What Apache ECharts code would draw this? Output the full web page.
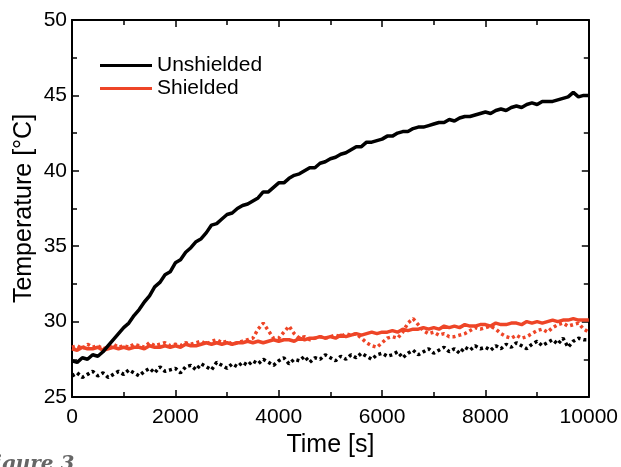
<!DOCTYPE html>
<html>
<head>
<meta charset="utf-8">
<script src="https://cdn.jsdelivr.net/npm/echarts@6/dist/echarts.min.js"></script>
<style>
html,body{margin:0;padding:0;background:#fff;}
#chart{width:621px;height:467px;}
</style>
</head>
<body>
<div id="chart"></div>
<script>
// Sampling step of the recorded data (s)
const timeStep = 100;

const unshielded = [
27.4,27.3,27.6,27.5,27.8,27.7,28.0,28.4,28.8,29.2,
29.6,29.9,30.4,30.8,31.3,31.7,32.3,32.6,33.1,33.3,
33.9,34.1,34.6,34.9,35.3,35.5,35.9,36.4,36.5,36.8,
37.1,37.2,37.5,37.7,37.8,38.0,38.2,38.6,38.6,38.9,
39.2,39.2,39.5,39.7,39.8,40.0,40.2,40.2,40.5,40.6,
40.8,40.9,41.1,41.2,41.4,41.6,41.6,41.9,41.9,42.0,
42.1,42.3,42.3,42.5,42.6,42.6,42.8,42.9,42.9,43.0,
43.1,43.2,43.2,43.4,43.3,43.5,43.6,43.6,43.7,43.8,
43.9,43.8,44.0,44.1,44.0,44.2,44.3,44.2,44.4,44.5,
44.4,44.6,44.6,44.6,44.7,44.8,44.9,45.2,44.9,45.0,45.0
];

const shielded = [
28.2,28.1,28.3,28.2,28.2,28.3,28.1,28.2,28.3,28.2,
28.3,28.2,28.3,28.3,28.2,28.4,28.3,28.3,28.4,28.3,
28.4,28.3,28.5,28.4,28.4,28.5,28.6,28.5,28.6,28.5,
28.6,28.5,28.6,28.6,28.7,28.6,28.7,28.6,28.7,28.8,
28.7,28.8,28.8,28.7,28.9,28.8,28.9,28.9,29.0,28.9,
29.0,28.9,29.1,29.0,29.1,29.2,29.1,29.2,29.3,29.2,
29.3,29.3,29.4,29.3,29.5,29.4,29.5,29.5,29.6,29.5,
29.6,29.5,29.7,29.6,29.7,29.6,29.8,29.7,29.7,29.8,
29.8,29.7,29.9,29.8,29.8,29.9,29.9,29.8,30.0,29.9,
30.0,29.9,30.0,30.1,30.0,30.1,30.1,30.2,30.1,30.1,30.1
];

const shieldedDotted = [
28.3,28.4,28.2,28.5,28.3,28.4,28.2,28.3,28.5,28.3,
28.4,28.3,28.5,28.4,28.3,28.6,28.4,28.5,28.6,28.4,
28.5,28.4,28.6,28.5,28.6,28.7,28.5,28.7,28.8,28.6,
28.7,28.5,28.6,28.7,28.8,28.9,29.5,29.9,29.4,28.9,
28.9,29.3,29.7,29.2,28.9,29.0,28.8,28.9,29.0,28.9,
29.0,29.1,29.0,29.2,29.1,29.2,28.9,28.6,28.4,28.3,
28.6,28.9,29.0,28.9,29.3,29.9,30.2,29.8,29.4,29.2,
29.3,29.1,29.2,29.0,29.0,29.1,29.2,29.4,29.6,29.5,
29.6,29.7,29.5,29.2,29.0,28.9,29.1,28.9,29.0,29.2,
29.4,29.5,29.3,29.6,29.8,29.9,29.7,29.8,29.9,29.5,29.3
];

const unshieldedDotted = [
26.4,26.6,26.3,26.5,26.7,26.4,26.6,26.3,26.5,26.7,
26.5,26.8,26.6,26.4,26.7,26.9,26.6,27.0,26.7,26.8,
26.9,26.6,27.0,27.1,26.8,27.2,27.0,26.8,27.3,27.1,
26.9,27.2,27.0,27.3,27.1,27.4,27.2,27.5,27.3,27.1,
27.4,27.6,27.2,27.5,27.4,27.7,27.3,27.6,27.5,27.8,
27.6,27.4,27.7,27.5,27.8,27.6,27.9,27.7,27.5,27.8,
27.9,27.7,27.8,28.0,27.6,27.9,28.1,27.8,28.0,28.2,
27.9,28.1,28.3,28.0,28.2,27.9,28.3,28.1,28.4,28.2,
28.3,28.1,28.4,28.2,28.5,28.3,28.6,28.4,28.2,28.5,
28.7,28.4,28.6,28.8,28.5,28.9,28.3,28.7,28.9,28.8,28.8
];

const legendNames = ['Unshielded', 'Shielded'];
const xTicks = { min: 0, max: 10000, interval: 2000 };
const yTicks = { min: 25, max: 50, interval: 5 };

const RED = '#EE4527';
const FONT = 'Liberation Sans, Arial, Helvetica, sans-serif';

function pairs(arr) { return arr.map((v, i) => [i * timeStep, v]); }

const chart = echarts.init(document.getElementById('chart'), null, { renderer: 'canvas' });

const axisLine = { show: true, onZero: false, lineStyle: { color: '#000', width: 2 } };
const tick = { show: true, inside: true, length: 7, lineStyle: { color: '#000', width: 1.5 } };
const minor = { show: true, splitNumber: 2, length: 5, lineStyle: { color: '#000', width: 1.5 } };

chart.setOption({
  animation: false,
  backgroundColor: '#fff',
  grid: { left: 72, top: 20, right: 29, bottom: 70, containLabel: false },
  legend: {
    data: legendNames.map(n => ({ name: n, icon: 'rect' })),
    orient: 'vertical',
    left: 95, top: 50,
    itemWidth: 52, itemHeight: 3, itemGap: 2,
    textStyle: { fontSize: 21, color: '#000', fontFamily: FONT, padding: [0, 0, 0, 0] }
  },
  xAxis: [
    { type: 'value', position: 'bottom', min: xTicks.min, max: xTicks.max, interval: xTicks.interval,
      axisLine, axisTick: tick, minorTick: minor, splitLine: { show: false },
      axisLabel: { color: '#000', fontSize: 21, fontFamily: FONT, margin: 10, formatter: v => String(v) },
      name: 'Time [s]', nameLocation: 'middle', nameGap: 36, nameMoveOverlap: false,
      nameTextStyle: { fontSize: 25, color: '#000', fontFamily: FONT } },
    { type: 'value', position: 'top', min: xTicks.min, max: xTicks.max, interval: xTicks.interval,
      axisLine, axisTick: tick, minorTick: minor, splitLine: { show: false },
      axisLabel: { show: false } }
  ],
  yAxis: [
    { type: 'value', position: 'left', min: yTicks.min, max: yTicks.max, interval: yTicks.interval,
      axisLine, axisTick: tick, minorTick: minor, splitLine: { show: false },
      axisLabel: { color: '#000', fontSize: 21, fontFamily: FONT, margin: 5 },
      name: 'Temperature [°C]', nameLocation: 'middle', nameGap: 35, nameMoveOverlap: false,
      nameTextStyle: { fontSize: 25, color: '#000', fontFamily: FONT } },
    { type: 'value', position: 'right', min: yTicks.min, max: yTicks.max, interval: yTicks.interval,
      axisLine, axisTick: tick, minorTick: minor, splitLine: { show: false },
      axisLabel: { show: false } }
  ],
  series: [
    { name: 'Unshielded (dotted)', type: 'line', data: pairs(unshieldedDotted), showSymbol: false, symbol: 'none',
      lineStyle: { color: '#000', width: 3.5, type: [3, 3], cap: 'butt' }, z: 2 },
    { name: 'Shielded (dotted)', type: 'line', data: pairs(shieldedDotted), showSymbol: false, symbol: 'none',
      lineStyle: { color: RED, width: 3.5, type: [3, 3], cap: 'butt' }, z: 2 },
    { name: legendNames[1], type: 'line', data: pairs(shielded), showSymbol: false, symbol: 'none',
      itemStyle: { color: RED }, lineStyle: { color: RED, width: 3.5 }, z: 3 },
    { name: legendNames[0], type: 'line', data: pairs(unshielded), showSymbol: false, symbol: 'none',
      itemStyle: { color: '#000' }, lineStyle: { color: '#000', width: 3.5 }, z: 4 }
  ],
  graphic: [
    { type: 'text', left: -20, top: 455,
      style: { text: 'Figure 3', font: 'italic bold 20px "DejaVu Serif", serif', fill: '#666' } }
  ]
});
</script>
</body>
</html>
